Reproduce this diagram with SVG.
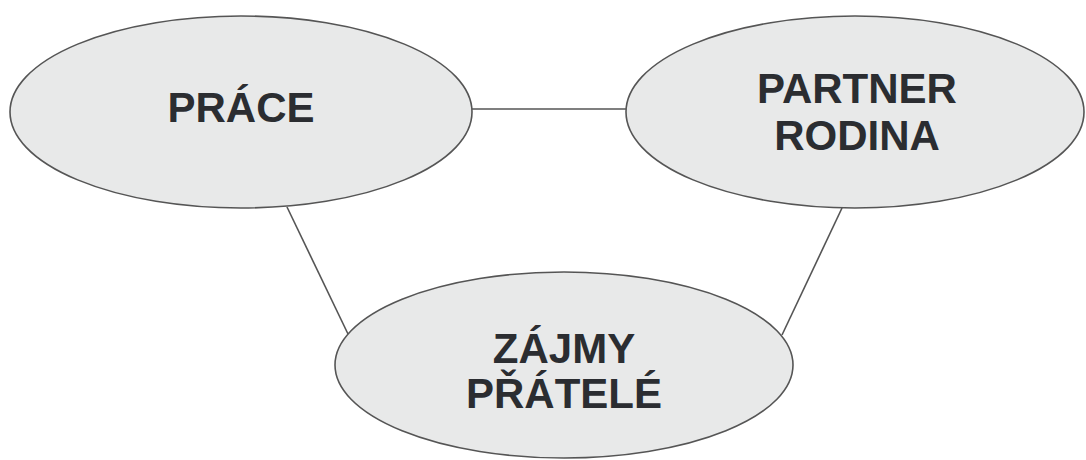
<svg xmlns="http://www.w3.org/2000/svg" width="1086" height="460" viewBox="0 0 1086 460">
<style>
.node{fill:#e8e9e9;stroke:#555;stroke-width:1.6}
.lbl{font-family:"Liberation Sans",Arial,sans-serif;font-weight:bold;font-size:42px;fill:#2b2d31;text-anchor:middle}
.edge{stroke:#555;stroke-width:1.6;fill:none}
</style>
<rect width="1086" height="460" fill="#fff"/>
<g id="connectors">
<line class="edge" x1="472" y1="109" x2="627" y2="109"/>
<line class="edge" x1="287" y1="207" x2="348" y2="334"/>
<line class="edge" x1="842" y1="208" x2="782" y2="335"/>
</g>
<g id="prace">
<ellipse class="node" cx="241" cy="112" rx="231" ry="96"/>
<text class="lbl" x="241" y="122">PRÁCE</text>
</g>
<g id="partner-rodina">
<ellipse class="node" cx="855" cy="112" rx="229" ry="96"/>
<text class="lbl" x="857" y="103">PARTNER</text>
<text class="lbl" x="857" y="150">RODINA</text>
</g>
<g id="zajmy-pratele">
<ellipse class="node" cx="564" cy="365" rx="229" ry="93"/>
<text class="lbl" x="564" y="363">ZÁJMY</text>
<text class="lbl" x="564" y="408">PŘÁTELÉ</text>
</g>
</svg>
